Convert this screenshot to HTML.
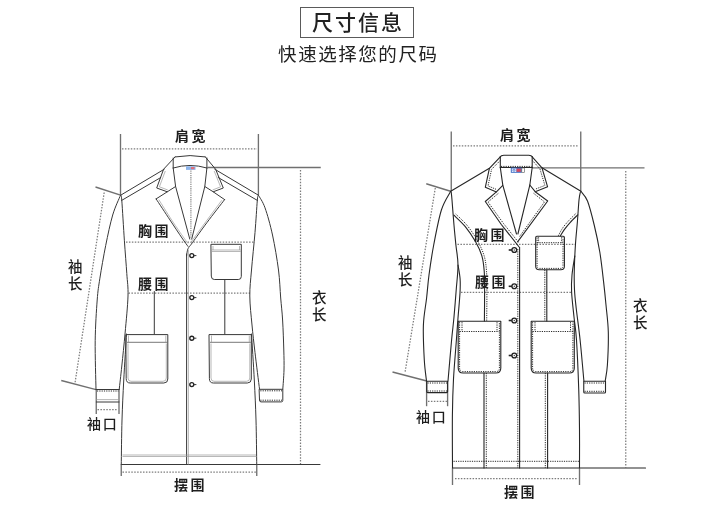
<!DOCTYPE html>
<html lang="zh-CN"><head><meta charset="utf-8"><title>尺寸信息</title>
<style>
html,body{margin:0;padding:0;background:#fff;}
body{width:720px;height:513px;position:relative;overflow:hidden;font-family:"Liberation Sans","Noto Sans CJK SC",sans-serif;color:#1e1e1e;}
.title{position:absolute;left:300px;top:7px;width:112px;height:29px;border:1px solid #5a5a5a;box-sizing:content-box;text-align:center;font-size:21px;line-height:29px;font-weight:500;letter-spacing:2px;color:#222;}
.title span{display:block;padding-left:2px;transform:translateY(0.3px);will-change:transform}
.sub{position:absolute;left:0px;top:43.4px;width:716.6px;text-align:center;font-size:18.5px;line-height:24px;letter-spacing:1.55px;color:#222;padding-left:0px}
.lb,.title,.sub{will-change:transform}
.lb{position:absolute;font-weight:700;font-size:14px;letter-spacing:2.6px;line-height:15px;white-space:nowrap;color:#1e1e1e;}
.k{font-weight:500;letter-spacing:1.7px}
.v{width:15px;white-space:normal;line-height:17.3px;font-size:14.5px;letter-spacing:0;font-weight:500}
svg{position:absolute;left:0;top:0;}
.s{fill:none;stroke:#262626;stroke-width:1.1;stroke-linejoin:round;stroke-linecap:round}
.ca .s{stroke:#383838;stroke-width:1}
.s2{fill:none;stroke:#555;stroke-width:0.8}
.m{fill:none;stroke:#707070;stroke-width:1.35}
.g{fill:none;stroke:#999;stroke-width:0.7}
.gs{fill:none;stroke:#8a8a8a;stroke-width:1.2;stroke-dasharray:1.3 0.9}
.d{fill:none;stroke:#7c7c7c;stroke-width:1.25;stroke-dasharray:1.5 1.43}
.st{fill:none;stroke:#2a2a2a;stroke-width:1;stroke-dasharray:1.2 1.1}
.b{fill:#fff;stroke:#222;stroke-width:1.35}
.bd{fill:#444;stroke:none}
.bh{fill:none;stroke:#222;stroke-width:1.6}
</style></head><body>
<div class="title"><span>尺寸信息</span></div>
<div class="sub">快速选择您的尺码</div>
<svg width="720" height="513" viewBox="0 0 720 513">
<g id="coatA" class="ca">
<path class="m" d="M120.5,134 L120.5,195.3"/>
<path class="m" d="M258.4,134 L258.4,195.2"/>
<path class="d" d="M122,148.75 L257,148.75"/>
<path class="m" d="M207.5,167.5 L320.75,167.5"/>
<path class="d" d="M300.5,170 L300.5,464"/>
<path class="s" d="M121.25,464.5 L320,464.5"/>
<path class="m" d="M121.25,464.5 L121.25,476"/>
<path class="m" d="M256.75,464.5 L256.75,476"/>
<path class="d" d="M122.5,472 L256,472"/>
<path class="d" d="M126,242 L253.5,242"/>
<path class="d" d="M128.5,293 L250,293"/>
<path class="m" d="M95.5,187 L120.5,195.2"/>
<path class="d" d="M104.2,192.5 L75,383"/>
<path class="m" d="M61.25,380.5 L96,389.6"/>
<path class="m" d="M96.25,389.5 L96.25,414"/>
<path class="m" d="M119,389.5 L119,414"/>
<path class="d" d="M97.5,409.7 L118,409.7"/>
<path class="s" d="M120.5,195.3 L164.3,169.2"/>
<path class="s" d="M121.5,200.5 L160.8,177.5"/>
<path class="s" d="M258.4,195.2 L214.7,169.2"/>
<path class="s" d="M257.5,200.5 L218.2,177.5"/>
<path class="s" d="M120.50,195.30 C119.20,198.58 115.17,206.63 112.70,215.00 C110.23,223.37 107.83,234.97 105.70,245.50 C103.57,256.03 101.32,269.12 99.90,278.20 C98.48,287.28 97.98,289.58 97.20,300.00 C96.42,310.42 95.40,325.78 95.20,340.70 C95.00,355.62 95.87,381.37 96.00,389.50"/>
<path class="s" d="M120.80,195.60 C120.97,196.42 121.20,192.97 121.80,200.50 C122.40,208.03 123.57,228.62 124.40,240.80 C125.23,252.98 126.20,264.40 126.80,273.60 C127.40,282.80 128.28,286.10 128.00,296.00 C127.72,305.90 126.13,321.33 125.10,333.00 C124.07,344.67 122.78,356.58 121.80,366.00 C120.82,375.42 119.63,385.58 119.20,389.50"/>
<path class="s" d="M258.40,195.20 C259.50,197.30 262.65,201.17 265.00,207.80 C267.35,214.43 270.25,224.63 272.50,235.00 C274.75,245.37 277.13,259.50 278.50,270.00 C279.87,280.50 280.02,289.67 280.70,298.00 C281.38,306.33 282.08,311.33 282.60,320.00 C283.12,328.67 283.57,341.67 283.80,350.00 C284.03,358.33 284.17,363.47 284.00,370.00 C283.83,376.53 283.00,386.00 282.80,389.20"/>
<path class="s" d="M258.10,195.60 C257.97,196.42 257.82,194.35 257.30,200.50 C256.78,206.65 255.97,220.92 255.00,232.50 C254.03,244.08 252.37,259.42 251.50,270.00 C250.63,280.58 249.72,286.83 249.80,296.00 C249.88,305.17 251.13,315.58 252.00,325.00 C252.87,334.42 253.75,341.83 255.00,352.50 C256.25,363.17 258.75,382.92 259.50,389.00"/>
<path class="s" d="M126.50,334.00 C126.04,341.67 124.50,365.67 123.75,380.00 C123.00,394.33 122.42,405.92 122.00,420.00 C121.58,434.08 121.38,457.08 121.25,464.50"/>
<path class="s" d="M251.50,334.00 C251.97,341.67 253.55,365.67 254.30,380.00 C255.05,394.33 255.59,405.92 256.00,420.00 C256.41,434.08 256.62,457.08 256.75,464.50"/>
<path class="s" d="M96,389.5 L119.2,389.5"/>
<path class="st" d="M97,391 L118.5,391"/>
<path class="g" d="M96.3,399.6 L119,399.6"/>
<path class="s" d="M96.3,402 L119,402"/>
<path class="s" d="M259.5,389.3 L282.8,389.3 L282.8,400.4 Q282.8,401.9 281.3,401.9 L261,401.9 Q259.5,401.9 259.5,400.4 Z"/>
<path class="st" d="M260.3,390.8 L282,390.8"/>
<path class="st" d="M260.3,400.2 L282,400.2"/>
<path class="s" d="M175.1,156.9 Q190,154.2 205.3,156.9"/>
<path class="s" d="M175.10,156.90 L163.60,169.20 L156.70,188.00 L167.30,191.80 L156.10,198.90"/>
<path class="s" d="M156.10,198.90 C158.42,202.42 165.68,213.48 170.00,220.00 C174.32,226.52 179.00,233.60 182.00,238.00 C185.00,242.40 187.00,245.00 188.00,246.40"/>
<path class="s" d="M205.30,156.90 L215.60,169.20 L223.30,188.00 L213.20,191.80 L224.60,199.60"/>
<path class="s" d="M224.60,199.60 C221.67,203.42 212.37,215.32 207.00,222.50 C201.63,229.68 195.58,238.28 192.40,242.70 C189.22,247.12 188.87,246.78 187.90,249.00 C186.93,251.22 186.82,254.83 186.60,256.00"/>
<path class="s" d="M167.3,191.8 L175.6,186.5"/>
<path class="s" d="M213.2,191.8 L204.8,186.5"/>
<path class="g" d="M165.30,171.00 L159.40,186.80 L167.80,190.00"/>
<path class="g" d="M214.20,171.00 L220.60,186.80 L212.60,190.00"/>
<path class="g" d="M158.80,199.60 C161.00,203.08 167.80,214.10 172.00,220.50 C176.20,226.90 181.33,234.17 184.00,238.00 C186.67,241.83 187.33,242.58 188.00,243.50"/>
<path class="g" d="M221.80,200.30 C219.17,203.83 210.63,215.22 206.00,221.50 C201.37,227.78 196.58,234.42 194.00,238.00 C191.42,241.58 191.08,242.17 190.50,243.00"/>
<path class="s" d="M173.2,158 L173.2,168"/>
<path class="s" d="M206.9,158 L206.9,168"/>
<path class="s" d="M173.2,168 Q190,162.8 206.9,168"/>
<path class="s" d="M173.20,168.00 L175.60,186.50 L189.80,239.10"/>
<path class="s" d="M206.90,168.00 L204.80,186.50 L191.70,239.10"/>
<path class="gs" d="M190.9,170.5 L190.9,238"/>
<rect x="186" y="166.3" width="9.5" height="3.6" fill="#8db4ea"/><rect x="191" y="167" width="3.5" height="2.2" fill="#e0707a"/>
<path class="s" d="M186.6,254 L186.6,464.5"/>
<path class="g" d="M188.4,250 L188.4,464.5"/>
<circle class="b" cx="191.8" cy="255.6" r="2"/>
<path class="s" d="M194,255.6 L196,255.6"/>
<circle class="b" cx="191.8" cy="297.6" r="2"/>
<path class="s" d="M194,297.6 L196,297.6"/>
<circle class="b" cx="191.8" cy="338.2" r="2"/>
<path class="s" d="M194,338.2 L196,338.2"/>
<circle class="b" cx="191.8" cy="384.6" r="2"/>
<path class="s" d="M194,384.6 L196,384.6"/>
<path class="s" d="M211.3,244.3 L241.3,244.3 L241.3,276.5 Q241.3,279.5 238.3,279.5 L214.3,279.5 Q211.3,279.5 211.3,276.5 Z"/>
<path class="g" d="M211.8,250 L240.8,250"/>
<path class="g" d="M211.8,251.5 L240.8,251.5"/>
<path class="g" d="M213,246 L213,250"/>
<path class="g" d="M239.5,246 L239.5,250"/>
<path class="s" d="M126.2,334.6 L167.8,334.6 L167.8,379 Q167.8,383 163.8,383 L130.2,383 Q126.2,383 126.2,379 Z"/>
<path class="s2" d="M127,342.3 L167.3,342.3"/>
<path class="g" d="M128.5,335.5 L128.5,342"/>
<path class="g" d="M165.8,335.5 L165.8,342"/>
<path class="g" d="M128,343.5 L128,378 Q128,381.3 131,381.3 L163,381.3 Q166.3,381.3 166.3,378 L166.3,343.5"/>
<path class="s" d="M209.4,334.6 L251.3,334.6 L251.3,379 Q251.3,383 247.3,383 L213.4,383 Q209.4,383 209.4,379 Z"/>
<path class="s2" d="M210,342.3 L250.8,342.3"/>
<path class="g" d="M211.5,335.5 L211.5,342"/>
<path class="g" d="M249.3,335.5 L249.3,342"/>
<path class="g" d="M211,343.5 L211,378 Q211,381.3 214,381.3 L246.5,381.3 Q249.8,381.3 249.8,378 L249.8,343.5"/>
<path class="s" d="M154.3,291.5 L154.3,334"/>
<path class="s" d="M224.8,279.5 L224.8,334"/>
<path class="g" d="M122.5,455 L256,455"/>
<path class="g" d="M122.5,456.5 L256,456.5"/>
</g>
<g id="coatB">
<path class="m" d="M451.25,131.5 L451.25,191.5"/>
<path class="m" d="M580.75,131.5 L580.75,191.5"/>
<path class="d" d="M453,145.75 L579,145.75"/>
<path class="m" d="M532.2,167.8 L644.5,167.8"/>
<path class="d" d="M625.75,171 L625.75,467.5"/>
<path class="s" d="M452.5,468 L645.5,468"/>
<path class="m" d="M452.5,468 L452.5,485"/>
<path class="m" d="M579.5,468 L579.5,485"/>
<path class="d" d="M455,478.7 L578,478.7"/>
<path class="d" d="M457.5,244.25 L575,244.25"/>
<path class="d" d="M461,292.3 L572,292.3"/>
<path class="m" d="M426.25,183.75 L450.5,191.25"/>
<path class="d" d="M435.3,188 L405,372.5"/>
<path class="m" d="M392.5,372 L426.75,381"/>
<path class="m" d="M426.6,381 L426.6,406.2"/>
<path class="m" d="M447.6,381 L447.6,406.2"/>
<path class="d" d="M428,401.3 L447,401.3"/>
<path class="s" d="M450.7,191.3 L489.4,168.3"/>
<path class="s" d="M580.9,191.3 L542,167.8"/>
<path class="s" d="M450.70,191.30 C449.15,194.42 444.23,201.05 441.40,210.00 C438.57,218.95 435.77,234.17 433.70,245.00 C431.63,255.83 430.18,266.17 429.00,275.00 C427.82,283.83 427.53,289.67 426.60,298.00 C425.67,306.33 423.78,314.67 423.40,325.00 C423.02,335.33 423.78,350.67 424.30,360.00 C424.82,369.33 426.13,377.50 426.50,381.00"/>
<path class="s" d="M451.20,192.00 C451.33,193.33 451.53,194.45 452.00,200.00 C452.47,205.55 453.35,217.80 454.00,225.30 C454.65,232.80 455.23,238.38 455.90,245.00 C456.57,251.62 457.95,257.50 458.00,265.00 C458.05,272.50 456.88,281.17 456.20,290.00 C455.52,298.83 454.67,309.67 453.90,318.00 C453.13,326.33 452.58,329.50 451.60,340.00 C450.62,350.50 448.60,374.17 448.00,381.00"/>
<path class="s" d="M580.90,191.30 C582.00,192.92 585.28,195.38 587.50,201.00 C589.72,206.62 592.15,216.50 594.20,225.00 C596.25,233.50 598.23,242.52 599.80,252.00 C601.37,261.48 602.57,273.07 603.60,281.90 C604.63,290.73 605.22,296.65 606.00,305.00 C606.78,313.35 608.07,322.00 608.30,332.00 C608.53,342.00 607.92,356.83 607.40,365.00 C606.88,373.17 605.57,378.33 605.20,381.00"/>
<path class="s" d="M580.40,192.00 C580.17,193.33 579.50,195.03 579.00,200.00 C578.50,204.97 577.98,214.52 577.40,221.80 C576.82,229.08 576.02,235.67 575.50,243.70 C574.98,251.73 574.47,262.28 574.30,270.00 C574.13,277.72 574.17,283.50 574.50,290.00 C574.83,296.50 575.37,300.67 576.30,309.00 C577.23,317.33 578.83,328.00 580.10,340.00 C581.37,352.00 583.27,374.17 583.90,381.00"/>
<path class="s" d="M458.00,265.00 C458.35,267.33 459.77,274.33 460.10,279.00 C460.43,283.67 460.35,286.50 460.00,293.00 C459.65,299.50 458.60,310.17 458.00,318.00 C457.40,325.83 457.15,329.83 456.40,340.00 C455.65,350.17 454.17,366.50 453.50,379.00 C452.83,391.50 452.57,400.17 452.40,415.00 C452.23,429.83 452.48,459.17 452.50,468.00"/>
<path class="s" d="M574.80,256.00 C574.33,259.17 572.53,269.00 572.00,275.00 C571.47,281.00 571.27,285.00 571.60,292.00 C571.93,299.00 573.18,309.00 574.00,317.00 C574.82,325.00 575.71,327.83 576.50,340.00 C577.29,352.17 578.25,375.00 578.75,390.00 C579.25,405.00 579.38,417.00 579.50,430.00 C579.62,443.00 579.50,461.67 579.50,468.00"/>
<path class="s" d="M426.75,381.2 L447.6,381.2 L447.6,391.6 Q447.6,392.6 446.6,392.6 L427.75,392.6 Q426.75,392.6 426.75,391.6 Z"/>
<path class="st" d="M427.5,383 L447,383"/>
<path class="st" d="M427.5,391 L447,391"/>
<path class="s" d="M583.75,381.2 L605.5,381.2 L605.5,392 Q605.5,393 604.5,393 L584.75,393 Q583.75,393 583.75,392 Z"/>
<path class="st" d="M584.5,383 L605,383"/>
<path class="st" d="M584.5,391.3 L605,391.3"/>
<path class="s" d="M453.90,215.20 C455.80,217.10 461.68,222.17 465.30,226.60 C468.92,231.03 472.85,236.95 475.60,241.80 C478.35,246.65 480.37,250.85 481.80,255.70 C483.23,260.55 483.73,265.02 484.20,270.90 C484.67,276.78 484.57,282.65 484.60,291.00 C484.63,299.35 484.43,316.00 484.40,321.00"/>
<path class="st" d="M455.70,214.00 C457.60,215.90 463.48,220.97 467.10,225.40 C470.72,229.83 474.57,235.55 477.40,240.60 C480.23,245.65 482.58,250.65 484.10,255.70 C485.62,260.75 486.03,265.02 486.50,270.90 C486.97,276.78 486.87,282.65 486.90,291.00 C486.93,299.35 486.73,316.00 486.70,321.00"/>
<path class="s" d="M484,373 L484,468"/>
<path class="st" d="M486.3,373 L486.3,468"/>
<path class="s" d="M577.80,214.80 C576.55,216.05 572.55,219.83 570.30,222.30 C568.05,224.77 565.97,227.32 564.30,229.60 C562.63,231.88 560.97,234.93 560.30,236.00"/>
<path class="st" d="M576.10,213.30 C574.85,214.55 570.85,218.33 568.60,220.80 C566.35,223.27 564.33,225.57 562.60,228.10 C560.87,230.63 558.93,234.68 558.20,236.00"/>
<path class="s" d="M546.8,270 L546.8,321"/>
<path class="st" d="M544.8,270 L544.8,321"/>
<path class="s" d="M547.6,373 L547.6,468"/>
<path class="st" d="M545.3,373 L545.3,468"/>
<path class="s" d="M500.3,156.8 Q501,155.5 503.8,155.3 L528.8,155.3 Q531.5,155.5 532.2,156.8"/>
<path class="s" d="M500.30,156.80 L489.40,168.30 L485.30,187.30 L496.40,191.90 L485.30,201.50 L501.30,224.50 L519.50,247.50"/>
<path class="s" d="M532.20,156.80 L542.00,167.80 L547.60,186.80 L535.20,191.70 L547.70,201.00 L517.60,241.80"/>
<path class="st" d="M500.20,160.50 L491.60,169.30 L488.00,185.90 L496.80,189.60"/>
<path class="st" d="M532.40,160.50 L539.90,168.80 L544.90,185.40 L535.00,189.30"/>
<path class="st" d="M498.30,193.40 L488.00,202.00 L503.50,223.50 L519.00,243.00"/>
<path class="st" d="M533.60,193.30 L544.50,201.90 L519.60,236.50"/>
<path class="s" d="M496.4,191.9 L502.8,185.3"/>
<path class="s" d="M535.2,191.7 L529.8,185.0"/>
<path class="s" d="M500.3,156.8 L500.3,167.5"/>
<path class="s" d="M532.2,156.8 L532.2,167.5"/>
<path class="s" d="M500.3,167.5 L532.2,167.5"/>
<path class="st" d="M501,166.4 L531.6,166.4"/>
<path class="s" d="M500.30,167.50 L502.80,185.20 L516.50,234.00"/>
<path class="s" d="M532.20,167.50 L529.80,185.20 L517.90,234.00"/>
<rect x="510.8" y="167.6" width="11" height="5.2" fill="#3f6fc6"/><rect x="511.8" y="168.5" width="4.6" height="3.4" fill="#f2f5fd"/><circle cx="514" cy="170.2" r="1.1" fill="none" stroke="#3f6fc6" stroke-width="0.8"/><rect x="516.6" y="168.6" width="4.3" height="3.2" fill="#d9475c"/><rect x="521.8" y="168" width="2.6" height="4.4" fill="#fff" stroke="#555" stroke-width="0.6"/>
<path class="s" d="M519.6,247.5 L519.6,468"/>
<path class="st" d="M517.8,249 L517.8,468"/>
<circle class="b" cx="514.3" cy="250" r="2.4"/><circle class="bd" cx="514.3" cy="250" r="0.7"/>
<path class="bh" d="M508.7,250 L511.9,250"/>
<circle class="b" cx="514.3" cy="286.3" r="2.4"/><circle class="bd" cx="514.3" cy="286.3" r="0.7"/>
<path class="bh" d="M508.7,286.3 L511.9,286.3"/>
<circle class="b" cx="514.3" cy="320.5" r="2.4"/><circle class="bd" cx="514.3" cy="320.5" r="0.7"/>
<path class="bh" d="M508.7,320.5 L511.9,320.5"/>
<circle class="b" cx="514.3" cy="355.5" r="2.4"/><circle class="bd" cx="514.3" cy="355.5" r="0.7"/>
<path class="bh" d="M508.7,355.5 L511.9,355.5"/>
<path class="s" d="M536.9,236.2 L563.2,236.2 Q564.4,236.2 564.4,237.4 L564.4,266.3 Q564.4,269.8 560.9,269.8 L539.2,269.8 Q535.7,269.8 535.7,266.3 L535.7,237.4 Q535.7,236.2 536.9,236.2 Z"/>
<path class="st" d="M537.1,237.5 L537.1,266 Q537.1,268.4 539.5,268.4 L560.6,268.4 Q563,268.4 563,266 L563,237.5"/>
<path class="st" d="M537.1,242.7 L563,242.7"/>
<path class="st" d="M538.6,237.3 L538.6,242.5"/>
<path class="st" d="M561.6,237.3 L561.6,242.5"/>
<path class="s" d="M458.2,321.2 L500.8,321.2 L500.8,368 Q500.8,373 495.8,373 L463.2,373 Q458.2,373 458.2,368 Z"/>
<path class="st" d="M459.59999999999997,322.2 L459.59999999999997,368 Q459.59999999999997,371.6 463.2,371.6 L495.8,371.6 Q499.40000000000003,371.6 499.40000000000003,368 L499.40000000000003,322.2"/>
<path class="st" d="M459.59999999999997,331.5 L499.40000000000003,331.5"/>
<path class="st" d="M462.0,322.2 L462.0,331.2"/>
<path class="st" d="M497.0,322.2 L497.0,331.2"/>
<path class="s" d="M531.2,321.2 L574.3,321.2 L574.3,368 Q574.3,373 569.3,373 L536.2,373 Q531.2,373 531.2,368 Z"/>
<path class="st" d="M532.6,322.2 L532.6,368 Q532.6,371.6 536.2,371.6 L569.3,371.6 Q572.9,371.6 572.9,368 L572.9,322.2"/>
<path class="st" d="M532.6,331.5 L572.9,331.5"/>
<path class="st" d="M535.0,322.2 L535.0,331.2"/>
<path class="st" d="M570.5,322.2 L570.5,331.2"/>
<path class="st" d="M453.5,461.3 L579,461.3"/>
</g>
</svg>
<div class="lb" style="left:175px;top:128.5px">肩宽</div>
<div class="lb" style="left:137.5px;top:223.7px">胸围</div>
<div class="lb" style="left:138px;top:276.7px">腰围</div>
<div class="lb v" style="left:67.5px;top:258.8px">袖长</div>
<div class="lb k" style="left:87px;top:417.4px">袖口</div>
<div class="lb" style="left:174px;top:478.4px">摆围</div>
<div class="lb v" style="left:312px;top:289.8px">衣长</div>
<div class="lb" style="left:500px;top:128.4px">肩宽</div>
<div class="lb" style="left:474px;top:227.6px">胸围</div>
<div class="lb" style="left:474.7px;top:274.5px">腰围</div>
<div class="lb v" style="left:398px;top:254.8px">袖长</div>
<div class="lb k" style="left:415.7px;top:409.5px">袖口</div>
<div class="lb" style="left:504.4px;top:484.8px">摆围</div>
<div class="lb v" style="left:633px;top:298px">衣长</div>
</body></html>
